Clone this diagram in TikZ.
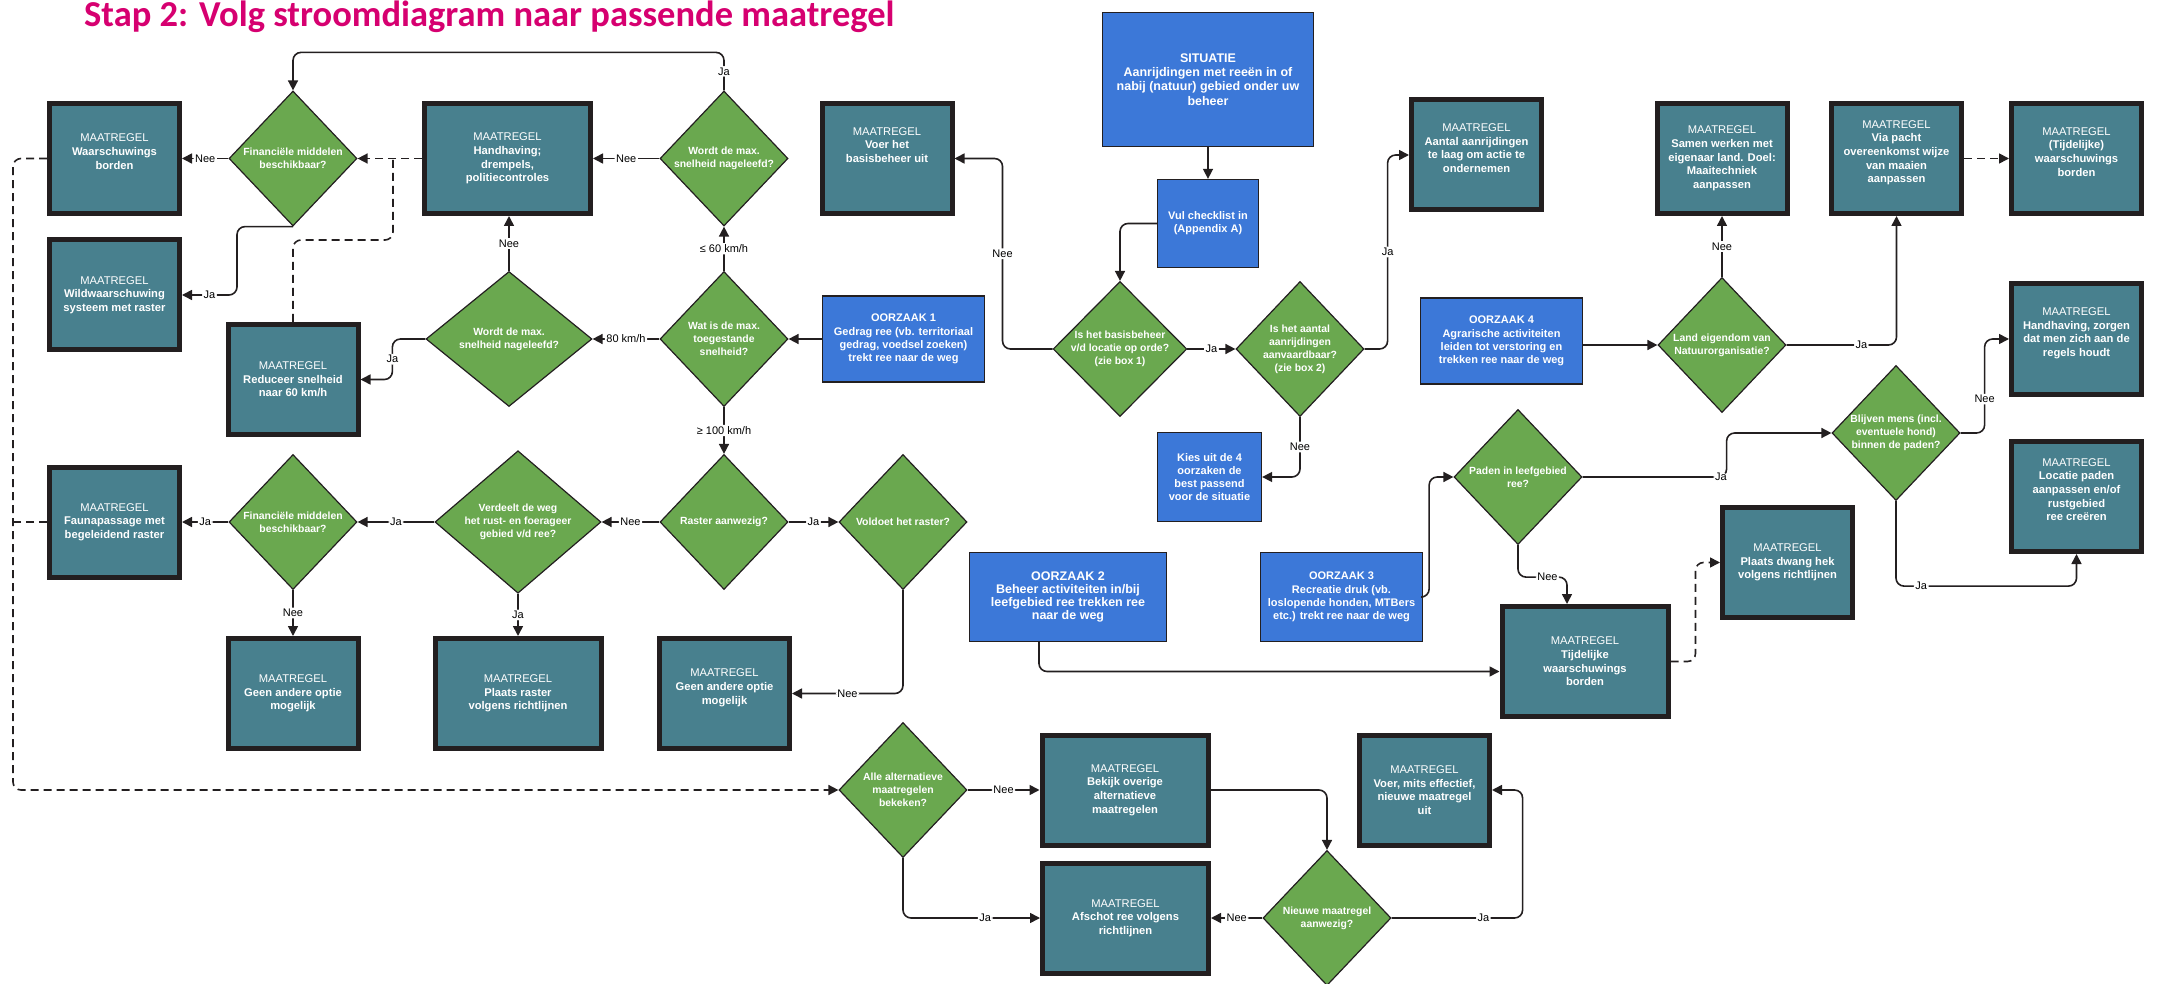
\documentclass[tikz,border=0pt]{standalone}
\usepackage{fontspec}
\setmainfont{Liberation Sans}
\newfontfamily\titelfont{Carlito}
\usetikzlibrary{shapes.geometric,arrows.meta}

\definecolor{titelroze}{RGB}{214,0,112}
\definecolor{maatkleur}{RGB}{72,128,142}
\definecolor{keuzekleur}{RGB}{106,168,79}
\definecolor{oorzaakkleur}{RGB}{60,120,216}
\definecolor{lijnkleur}{RGB}{35,31,32}

\newcommand{\maatkop}{{\mdseries MAATREGEL}}

\tikzset{
  titel/.style={anchor=base west, inner sep=0pt, text=titelroze,
    font={\titelfont\bfseries\fontsize{36.5}{40}\selectfont}},
  maat/.style={rectangle, draw=lijnkleur, line width=5pt, fill=maatkleur,
    text=white, align=center, inner sep=2pt, minimum width=130pt,
    minimum height=110pt, font={\fontsize{11.2}{13.7}\selectfont\bfseries}},
  maatbreed/.style={maat, minimum width=166pt},
  oorzaak/.style={rectangle, draw=lijnkleur, line width=1.3pt,
    fill=oorzaakkleur, text=white, align=center, inner sep=2pt,
    minimum width=162pt, minimum height=86pt,
    font={\fontsize{11}{13.2}\selectfont\bfseries}},
  keuze/.style={diamond, draw=lijnkleur, line width=1.2pt, fill=keuzekleur,
    text=white, align=center, inner sep=0pt, minimum width=128pt,
    minimum height=135pt, font={\fontsize{10.4}{12.9}\selectfont\bfseries}},
  keuzebreed/.style={keuze, minimum width=166pt},
  pijl/.style={draw=lijnkleur, line width=1.6pt, rounded corners=8pt,
    -{Triangle[length=10pt,width=10pt]}},
  stippel/.style={pijl, dash pattern=on 8pt off 5pt},
  bijschrift/.style={fill=white, inner sep=1.5pt, text=black,
    font={\fontsize{11}{13}\selectfont}}
}

\begin{document}
\begin{tikzpicture}[x=1pt, y=-1pt]
\useasboundingbox (0,0) rectangle (2172,984);

\node[titel] (titel) at (84,27) {Stap 2: Volg stroomdiagram naar passende maatregel};

% bovenste rij
\node[maat] (waarsch) at (114.5,158.5) {\maatkop\\Waarschuwings\\borden\\~};
\node[keuze] (fin1) at (293,158.5) {Financiële middelen\\beschikbaar?};
\node[maatbreed] (handh) at (507.5,158.5) {\maatkop\\Handhaving;\\drempels,\\politiecontroles};
\node[keuze] (snel1) at (724,158.5) {Wordt de max.\\snelheid nageleefd?};
\node[maat] (basis) at (887,158.5) {\maatkop\\Voer het\\basisbeheer uit\\~\\~};
\node[oorzaak, minimum width=211pt, minimum height=134pt,
  font={\fontsize{12.5}{14.3}\selectfont\bfseries}] (sit) at (1208,79.5)
  {SITUATIE\\Aanrijdingen met reeën in of\\nabij (natuur) gebied onder uw\\beheer};
\node[oorzaak, minimum width=101pt, minimum height=88pt] (vul) at (1208,223.5) {Vul checklist in\\(Appendix A)};
\node[maat] (aantal) at (1476.5,155) {\maatkop\\Aantal aanrijdingen\\te laag om actie te\\ondernemen\\~};
\node[maat] (samen) at (1722,158.5) {\maatkop\\Samen werken met\\eigenaar land. Doel:\\Maaitechniek\\aanpassen};
\node[maat] (pacht) at (1896.5,158.5) {\maatkop\\Via pacht\\overeenkomst wijze\\van maaien\\aanpassen\\~};
\node[maat] (tijd1) at (2076.5,158.5) {\maatkop\\(Tijdelijke)\\waarschuwings\\borden\\~};

% tweede rij
\node[maat] (wild) at (114.5,295) {\maatkop\\Wildwaarschuwing\\systeem met raster};
\node[maat] (reduc) at (293,379.5) {\maatkop\\Reduceer snelheid\\naar 60 km/h};
\node[keuzebreed] (snel2) at (509,339) {Wordt de max.\\snelheid nageleefd?};
\node[keuze] (max) at (724,339) {Wat is de max.\\toegestande\\snelheid?};
\node[oorzaak] (oorz1) at (903.5,339) {OORZAAK 1\\Gedrag ree (vb. territoriaal\\gedrag, voedsel zoeken)\\trekt ree naar de weg};
\node[keuze] (basischeck) at (1120,349) {Is het basisbeheer\\v/d locatie op orde?\\(zie box 1)};
\node[keuze] (aanv) at (1300,349) {Is het aantal\\aanrijdingen\\aanvaardbaar?\\(zie box 2)};
\node[oorzaak, minimum width=104pt, minimum height=89pt] (kies) at (1209.5,477) {Kies uit de 4\\oorzaken de\\best passend\\voor de situatie};
\node[oorzaak] (oorz4) at (1501.5,341) {OORZAAK 4\\Agrarische activiteiten\\leiden tot verstoring en\\trekken ree naar de weg};
\node[keuze] (land) at (1722,345) {Land eigendom van\\Natuurorganisatie?};
\node[maat] (handh2) at (2076.5,339) {\maatkop\\Handhaving, zorgen\\dat men zich aan de\\regels houdt\\~};
\node[keuze] (blijven) at (1896,433) {Blijven mens (incl.\\eventuele hond)\\binnen de paden?};
\node[maat] (locatie) at (2076.5,496.5) {\maatkop\\Locatie paden\\aanpassen en/of\\rustgebied\\ree creëren\\~};

% derde rij
\node[maat] (fauna) at (114.5,522) {\maatkop\\Faunapassage met\\begeleidend raster};
\node[keuze] (fin2) at (293,522) {Financiële middelen\\beschikbaar?};
\node[keuzebreed] (verdeelt) at (518,522) {Verdeelt de weg\\het rust- en foerageer\\gebied v/d ree?};
\node[keuze] (raster) at (724,522) {Raster aanwezig?};
\node[keuze] (voldoet) at (903,522) {Voldoet het raster?};
\node[oorzaak, minimum width=197pt, minimum height=89pt,
  font={\fontsize{12.5}{13}\selectfont\bfseries}] (oorz2) at (1068,597)
  {OORZAAK 2\\Beheer activiteiten in/bij\\leefgebied ree trekken ree\\naar de weg};
\node[oorzaak, minimum height=89pt] (oorz3) at (1341.5,597) {OORZAAK 3\\Recreatie druk (vb.\\loslopende honden, MTBers\\etc.) trekt ree naar de weg};
\node[keuze] (paden) at (1518,477) {Paden in leefgebied\\ree?};
\node[maat] (dwang) at (1787.5,562.5) {\maatkop\\Plaats dwang hek\\volgens richtlijnen};
\node[maatbreed] (tijd2) at (1585,661.5) {\maatkop\\Tijdelijke\\waarschuwings\\borden};

% onderste rijen
\node[maat] (geen1) at (293,693.5) {\maatkop\\Geen andere optie\\mogelijk};
\node[maatbreed] (plaats) at (518,693.5) {\maatkop\\Plaats raster\\volgens richtlijnen};
\node[maat] (geen2) at (724.5,693.5) {\maatkop\\Geen andere optie\\mogelijk\\~};
\node[keuze] (alle) at (903,790) {Alle alternatieve\\maatregelen\\bekeken?};
\node[maatbreed] (bekijk) at (1125,790) {\maatkop\\Bekijk overige\\alternatieve\\maatregelen};
\node[maatbreed] (afschot) at (1125.5,918) {\maatkop\\Afschot ree volgens\\richtlijnen};
\node[keuze] (nieuw) at (1327,918) {Nieuwe maatregel\\aanwezig?};
\node[maat] (voer) at (1424.5,790) {\maatkop\\Voer, mits effectief,\\nieuwe maatregel\\uit};

% verbindingen
\draw[pijl] (sit) -- (vul);
\draw[pijl] (vul.west) -| (basischeck.north);
\draw[pijl] (basischeck) -- node[bijschrift]{Ja} (aanv);
\draw[pijl] (basischeck.west) -- ++(-50,0) |- node[bijschrift, pos=0.25]{Nee} (basis.east);
\draw[pijl] (aanv.east) -- ++(23,0) |- node[bijschrift, pos=0.25]{Ja} (aantal.west);
\draw[pijl] (aanv.south) |- node[bijschrift, pos=0.25]{Nee} (kies.east);

\draw[pijl] (oorz1) -- (max);
\draw[pijl] (max) -- node[bijschrift]{≤ 60 km/h} (snel1);
\draw[pijl] (max) -- node[bijschrift]{80 km/h} (snel2);
\draw[pijl] (max) -- node[bijschrift]{≥ 100 km/h} (raster);
\draw[pijl] (snel1) -- node[bijschrift]{Nee} (handh);
\draw[pijl] (snel1.north) -- node[bijschrift]{Ja} ++(0,-38) -| (fin1.north);
\draw[pijl] (fin1) -- node[bijschrift]{Nee} (waarsch);
\draw[pijl] (fin1.south) -- ++(-56,0) |- node[bijschrift, pos=0.75]{Ja} (wild.east);
\draw[stippel] (handh) -- (fin1);
\coordinate (knik) at (393,158.5);
\draw[stippel, -] (reduc.north) -- ++(0,-82) -| (knik);
\draw[pijl] (snel2.north) -- node[bijschrift]{Nee} (snel2.north |- handh.south);
\draw[pijl] (snel2.west) -- ++(-33,0) |- node[bijschrift, pos=0.25]{Ja} (reduc.east);

\draw[pijl] (raster) -- node[bijschrift]{Nee} (verdeelt);
\draw[pijl] (raster) -- node[bijschrift]{Ja} (voldoet);
\draw[pijl] (verdeelt) -- node[bijschrift]{Ja} (fin2);
\draw[pijl] (fin2) -- node[bijschrift]{Ja} (fauna);
\draw[pijl] (fin2) -- node[bijschrift]{Nee} (geen1);
\draw[pijl] (verdeelt) -- node[bijschrift]{Ja} (plaats);
\draw[pijl] (voldoet.south) |- node[bijschrift, pos=0.75]{Nee} (geen2.east);

\draw[stippel] (waarsch.west) -- ++(-34,0) |- (alle.west);
\draw[stippel, -] (fauna.west) -- ++(-34,0);
\draw[pijl] (alle) -- node[bijschrift]{Nee} (bekijk);
\draw[pijl] (alle.south) |- node[bijschrift, pos=0.8]{Ja} (afschot.west);
\draw[pijl] (bekijk.east) -| (nieuw.north);
\draw[pijl] (nieuw) -- node[bijschrift]{Nee} (afschot);
\draw[pijl] (nieuw.east) -- node[bijschrift, pos=0.7]{Ja} ++(131,0) |- (voer.east);

\draw[pijl] ([xshift=-29pt]oorz2.south) |- ([yshift=-10pt]tijd2.west);
\draw[pijl] (oorz3.east) -- ++(6,0) |- (paden.west);
\draw[pijl] (paden.south) -- ++(0,32) -- node[bijschrift, pos=0.6]{Nee} ++(49,0) -- ([xshift=-18pt]tijd2.north);
\draw[stippel] (tijd2.east) -- ++(25,0) |- (dwang.west);
\draw[pijl] (paden.east) -- node[bijschrift, pos=0.96]{Ja} ++(144,0) |- (blijven.west);
\draw[pijl] (blijven.east) -- ++(24,0) |- node[bijschrift, pos=0.18]{Nee} (handh2.west);
\draw[pijl] (blijven.south) -- ++(0,85) -| node[bijschrift, pos=0.07]{Ja} (locatie.south);

\draw[pijl] (oorz4.east |- land) -- (land);
\draw[pijl] (land) -- node[bijschrift]{Nee} (samen);
\draw[pijl] (land.east) -| node[bijschrift, pos=0.34]{Ja} (pacht.south);
\draw[stippel] (pacht) -- (tijd1);
\end{tikzpicture}
\end{document}
